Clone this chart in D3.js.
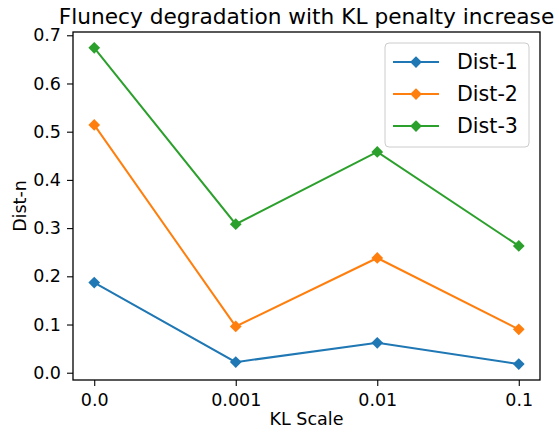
<!DOCTYPE html>
<html>
<head>
<meta charset="utf-8">
<script src="https://cdn.jsdelivr.net/npm/d3@7"></script>
<style>
  body { margin: 0; background: #fff; }
  text { font-family: "DejaVu Sans", sans-serif; fill: #000; }
</style>
</head>
<body>
<div id="chart"></div>
<script>
// data
var kLabels = ["0.0", "0.001", "0.01", "0.1"];
var dist1 = [0.187, 0.022, 0.062, 0.018];
var dist2 = [0.514, 0.096, 0.238, 0.090];
var dist3 = [0.674, 0.308, 0.458, 0.263];
var seriesNames = ["Dist-1", "Dist-2", "Dist-3"];
var yTicks = [0.0, 0.1, 0.2, 0.3, 0.4, 0.5, 0.6, 0.7];

var colors = ["#1f77b4", "#ff7f0e", "#2ca02c"];
var allSeries = [dist1, dist2, dist3];

var svgWidth = 559;
var svgHeight = 434;
var margin = { top: 32, right: 19, bottom: 54, left: 73 };
var width = svgWidth - margin.left - margin.right;
var height = svgHeight - margin.top - margin.bottom;

var svg = d3.select("#chart")
    .append("svg")
    .attr("width", svgWidth)
    .attr("height", svgHeight);

var chartGroup = svg.append("g")
    .attr("transform", `translate(${margin.left}, ${margin.top})`);

var xScale = d3.scaleLinear()
    .domain([-0.15, kLabels.length - 1 + 0.15])
    .range([0, width]);

var yScale = d3.scaleLinear()
    .domain([-0.0151, 0.7068])
    .range([height, 0]);

// axes
var bottomAxis = d3.axisBottom(xScale)
    .tickValues(d3.range(kLabels.length))
    .tickFormat(i => kLabels[i])
    .tickSize(6)
    .tickPadding(6);

var leftAxis = d3.axisLeft(yScale)
    .tickValues(yTicks)
    .tickFormat(d3.format(".1f"))
    .tickSize(6)
    .tickPadding(6);

var xAxis = chartGroup.append("g")
    .attr("transform", `translate(0, ${height})`)
    .call(bottomAxis);

var yAxis = chartGroup.append("g")
    .call(leftAxis);

[xAxis, yAxis].forEach(function(ax) {
    ax.select(".domain").remove();
    ax.attr("font-family", null).attr("font-size", null);
    ax.selectAll("line").attr("stroke", "#000").attr("stroke-width", 1.1);
    ax.selectAll("text").style("font-size", "17.5px").attr("fill", "#000");
});
xAxis.selectAll("text").attr("dy", "0.78em");

// frame
chartGroup.append("rect")
    .attr("x", 0)
    .attr("y", 0)
    .attr("width", width)
    .attr("height", height)
    .attr("fill", "none")
    .attr("stroke", "#000")
    .attr("stroke-width", 1.3);

// lines + markers
var line = d3.line()
    .x((d, i) => xScale(i))
    .y(d => yScale(d));

var diamond = d3.symbol().type(d3.symbolDiamond2).size(88);

allSeries.forEach(function(series, s) {
    chartGroup.append("path")
        .datum(series)
        .attr("d", line)
        .attr("fill", "none")
        .attr("stroke", colors[s])
        .attr("stroke-width", 2);

    chartGroup.selectAll(".m" + s)
        .data(series)
        .enter()
        .append("path")
        .attr("class", "m" + s)
        .attr("d", diamond)
        .attr("transform", (d, i) => `translate(${xScale(i)}, ${yScale(d)})`)
        .attr("fill", colors[s]);
});

// title and axis labels
svg.append("text")
    .attr("x", margin.left + width / 2)
    .attr("y", 24)
    .attr("text-anchor", "middle")
    .style("font-size", "21.7px")
    .text("Flunecy degradation with KL penalty increase");

svg.append("text")
    .attr("x", margin.left + width / 2)
    .attr("y", 425)
    .attr("text-anchor", "middle")
    .style("font-size", "17.5px")
    .text("KL Scale");

svg.append("text")
    .attr("transform", `translate(26, ${margin.top + height / 2}) rotate(-90)`)
    .attr("text-anchor", "middle")
    .style("font-size", "17.5px")
    .text("Dist-n");

// legend
var legend = chartGroup.append("g")
    .attr("transform", `translate(${385 - margin.left}, ${43 - margin.top})`);

legend.append("rect")
    .attr("width", 144)
    .attr("height", 104)
    .attr("rx", 4)
    .attr("fill", "#fff")
    .attr("fill-opacity", 0.8)
    .attr("stroke", "#ccc")
    .attr("stroke-width", 1);

seriesNames.forEach(function(name, s) {
    var row = legend.append("g")
        .attr("transform", `translate(0, ${19 + s * 32})`);
    row.append("line")
        .attr("x1", 8).attr("x2", 54)
        .attr("stroke", colors[s])
        .attr("stroke-width", 2);
    row.append("path")
        .attr("d", diamond)
        .attr("transform", "translate(31, 0)")
        .attr("fill", colors[s]);
    row.append("text")
        .attr("x", 72)
        .attr("dy", "0.36em")
        .style("font-size", "20.6px")
        .text(name);
});
</script>
</body>
</html>
